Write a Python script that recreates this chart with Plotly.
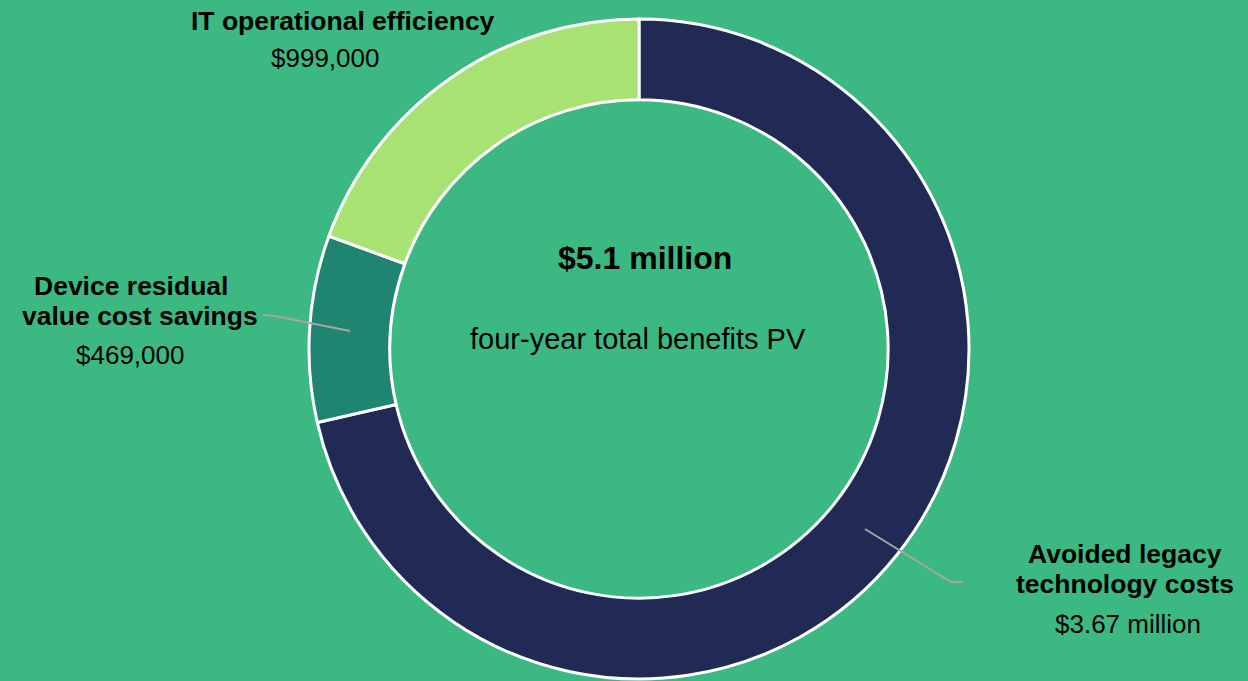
import plotly.graph_objects as go

# Daten
labels = ["Avoided legacy technology costs", "Device residual value cost savings", "IT operational efficiency"]
values = [3.67, 0.469, 0.999]
colors = ["#202A54", "#1F8470", "#A8E272"]
value_texts = ["$3.67 million", "$469,000", "$999,000"]
total_text = "$5.1 million"
total_sub = "four-year total benefits PV"

W, H = 1248, 681
BG = "#3CB883"


def px_x(x):
    return x / W


def px_y(y):
    return 1 - y / H


fig = go.Figure(go.Pie(
    labels=labels, values=values, sort=False, direction="clockwise", rotation=0,
    hole=0.755, textinfo="none", hoverinfo="label+value",
    marker=dict(colors=colors, line=dict(color="white", width=3)),
    domain=dict(x=[px_x(309), px_x(969)], y=[px_y(680), px_y(18)]),
    showlegend=False,
))

font_b = dict(family="Liberation Sans, Arial", color="black")


def add_text(x, y, text, size, bold=False):
    fig.add_annotation(
        x=px_x(x), y=px_y(y), xref="paper", yref="paper", showarrow=False,
        text=f"<b>{text}</b>" if bold else text,
        font=dict(size=size, **font_b), xanchor="center", yanchor="middle",
    )


# Beschriftungen aussen
add_text(343, 21, "IT operational efficiency", 26.5, True)
add_text(325, 58, value_texts[2], 26)
add_text(131, 286, "Device residual", 26.5, True)
add_text(140, 316, "value cost savings", 26.5, True)
add_text(130, 355, value_texts[1], 26)
add_text(1125, 554, "Avoided legacy", 26.5, True)
add_text(1125, 584, "technology costs", 26.5, True)
add_text(1128, 624, value_texts[0], 26)

# Mitte
add_text(645, 258, total_text, 32, True)
add_text(638, 339, total_sub, 29)

# Fuehrungslinien
for pts in [[(350, 331), (275, 316), (263, 315)], [(865, 529), (951, 582), (963, 582)]]:
    path = "M " + " L ".join(f"{px_x(a)},{px_y(b)}" for a, b in pts)
    fig.add_shape(type="path", path=path, xref="paper", yref="paper",
                  line=dict(color="#A6A6A6", width=2))

fig.update_layout(
    width=W, height=H, paper_bgcolor=BG, plot_bgcolor=BG,
    margin=dict(l=0, r=0, t=0, b=0),
)

fig.write_html("out.html", config={"displayModeBar": False},
               post_script="document.body.style.margin='0';document.body.style.overflow='hidden';")
